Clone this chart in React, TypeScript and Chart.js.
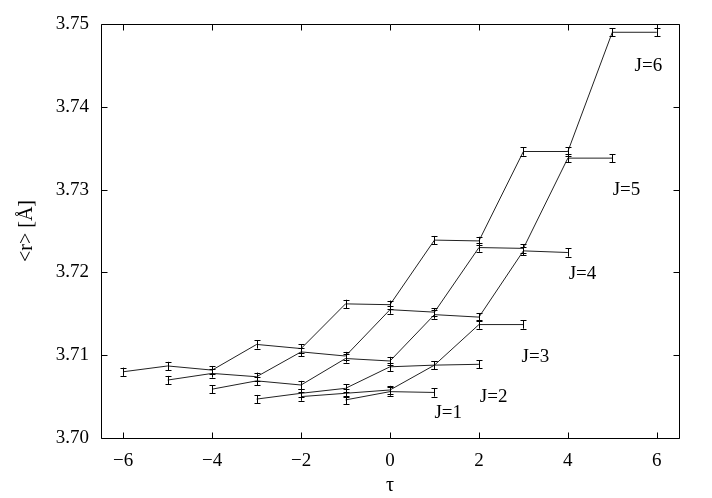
import React, { useEffect, useRef } from "react";
import { Chart, registerables } from "chart.js";

Chart.register(...registerables);

// tau values and <r> for each J
const tauJ1 = [-1, 0, 1];
const rJ1 = [3.7046, 3.7056, 3.7055];
const errJ1 = [0.0005, 0.0005, 0.0005];

const tauJ2 = [-2, -1, 0, 1, 2];
const rJ2 = [3.7050, 3.7054, 3.7058, 3.7088, 3.7089];
const errJ2 = [0.0005, 0.0005, 0.0005, 0.0005, 0.0005];

const tauJ3 = [-3, -2, -1, 0, 1, 2, 3];
const rJ3 = [3.7047, 3.7054, 3.7060, 3.7086, 3.7088, 3.7137, 3.7137];
const errJ3 = [0.0005, 0.0005, 0.0005, 0.0005, 0.0005, 0.0005, 0.0005];

const tauJ4 = [-4, -3, -2, -1, 0, 1, 2, 3, 4];
const rJ4 = [3.7059, 3.7069, 3.7064, 3.7096, 3.7093, 3.7149, 3.7146, 3.7226, 3.7224];
const errJ4 = [0.0005, 0.0005, 0.0005, 0.0005, 0.0005, 0.0005, 0.0005, 0.0005, 0.0005];

const tauJ5 = [-5, -4, -3, -2, -1, 0, 1, 2, 3, 4, 5];
const rJ5 = [3.7070, 3.7078, 3.7074, 3.7104, 3.7099, 3.7155, 3.7152, 3.7230, 3.7229, 3.7338, 3.7338];
const errJ5 = [0.0005, 0.0005, 0.0005, 0.0005, 0.0005, 0.0005, 0.0005, 0.0005, 0.0005, 0.0005, 0.0005];

const tauJ6 = [-6, -5, -4, -3, -2, -1, 0, 1, 2, 3, 4, 5, 6];
const rJ6 = [3.7080, 3.7087, 3.7082, 3.7113, 3.7108, 3.7162, 3.7161, 3.7239, 3.7238, 3.7346, 3.7346, 3.7490, 3.7490];
const errJ6 = [0.0005, 0.0005, 0.0005, 0.0005, 0.0005, 0.0005, 0.0005, 0.0005, 0.0005, 0.0005, 0.0005, 0.0005, 0.0005];

const seriesNames = ["J=1", "J=2", "J=3", "J=4", "J=5", "J=6"];
const seriesTau = [tauJ1, tauJ2, tauJ3, tauJ4, tauJ5, tauJ6];
const seriesR = [rJ1, rJ2, rJ3, rJ4, rJ5, rJ6];
const seriesErr = [errJ1, errJ2, errJ3, errJ4, errJ5, errJ6];

// label anchor positions (data coordinates)
const labelTau = [1.31, 2.33, 3.27, 4.33, 5.32, 5.81];
const labelR = [3.7030, 3.70495, 3.70978, 3.71981, 3.72995, 3.74493];

const xTicks = [-6, -4, -2, 0, 2, 4, 6];
const yTicks = [3.70, 3.71, 3.72, 3.73, 3.74, 3.75];

const FONT = '"Liberation Serif", "Times New Roman", serif';

const framePlugin = {
  id: "frameAndExtras",
  afterDatasetsDraw(chart: any) {
    const ctx = chart.ctx;
    const xs = chart.scales.x;
    const ys = chart.scales.y;
    ctx.save();
    // error bars
    ctx.strokeStyle = "#000";
    ctx.lineWidth = 1;
    chart.data.datasets.forEach((ds: any) => {
      const errs: number[] = ds.errors;
      ds.data.forEach((p: any, i: number) => {
        const px = Math.round(xs.getPixelForValue(p.x)) + 0.5;
        const y1 = ys.getPixelForValue(p.y - errs[i]);
        const y2 = ys.getPixelForValue(p.y + errs[i]);
        ctx.beginPath();
        ctx.moveTo(px, y1);
        ctx.lineTo(px, y2);
        ctx.moveTo(px - 3, Math.round(y1) + 0.5);
        ctx.lineTo(px + 3, Math.round(y1) + 0.5);
        ctx.moveTo(px - 3, Math.round(y2) + 0.5);
        ctx.lineTo(px + 3, Math.round(y2) + 0.5);
        ctx.stroke();
      });
    });
    // labels J=n
    ctx.fillStyle = "#000";
    ctx.font = `19px ${FONT}`;
    ctx.textAlign = "center";
    ctx.textBaseline = "middle";
    seriesNames.forEach((name, i) => {
      ctx.fillText(name, xs.getPixelForValue(labelTau[i]), ys.getPixelForValue(labelR[i]));
    });
    ctx.restore();
  },
  afterDraw(chart: any) {
    const ctx = chart.ctx;
    const { left, right, top, bottom } = chart.chartArea;
    const xs = chart.scales.x;
    const ys = chart.scales.y;
    ctx.save();
    ctx.strokeStyle = "#000";
    ctx.lineWidth = 1;
    const L = Math.round(left) + 0.5;
    const R = Math.round(right) + 0.5;
    const T = Math.round(top) + 0.5;
    const B = Math.round(bottom) + 0.5;
    ctx.beginPath();
    ctx.rect(L, T, R - L, B - T);
    const tl = 6;
    xTicks.forEach((v) => {
      const px = Math.round(xs.getPixelForValue(v)) + 0.5;
      ctx.moveTo(px, B);
      ctx.lineTo(px, B - tl);
      ctx.moveTo(px, T);
      ctx.lineTo(px, T + tl);
    });
    yTicks.forEach((v) => {
      const py = Math.round(ys.getPixelForValue(v)) + 0.5;
      ctx.moveTo(L, py);
      ctx.lineTo(L + tl, py);
      ctx.moveTo(R, py);
      ctx.lineTo(R - tl, py);
    });
    ctx.stroke();
    ctx.restore();
  },
};

export default function App() {
  const canvasRef = useRef<HTMLCanvasElement | null>(null);

  useEffect(() => {
    const canvas = canvasRef.current;
    if (!canvas) return;
    const datasets = seriesNames.map((name, k) => ({
      label: name,
      data: seriesTau[k].map((t, i) => ({ x: t, y: seriesR[k][i] })),
      errors: seriesErr[k],
      showLine: true,
      borderColor: "#222",
      borderWidth: 1,
      pointRadius: 0,
      pointHoverRadius: 0,
      fill: false,
      tension: 0,
    }));
    const chart = new Chart(canvas, {
      type: "scatter",
      data: { datasets: datasets as any },
      options: {
        responsive: false,
        animation: false,
        devicePixelRatio: 1,
        layout: { padding: { top: 24, right: 33, left: 0, bottom: 0 } },
        plugins: {
          legend: { display: false },
          tooltip: { enabled: false },
        },
        scales: {
          x: {
            type: "linear",
            min: -6.5,
            max: 6.5,
            afterBuildTicks: (s: any) => {
              s.ticks = xTicks.map((v) => ({ value: v }));
            },
            afterFit: (s: any) => {
              s.height = 60;
            },
            grid: { display: false, drawTicks: false },
            border: { display: false },
            ticks: {
              color: "#000",
              padding: 12,
              maxRotation: 0,
              font: { family: FONT, size: 19 },
              callback: (v: any) => (Number(v) < 0 ? "\u2212" + Math.abs(Number(v)) : String(v)),
            },
            title: {
              display: true,
              text: "\u03c4",
              color: "#000",
              font: { family: FONT, size: 20 },
              padding: { top: 0, bottom: 0 },
            },
          },
          y: {
            type: "linear",
            min: 3.7,
            max: 3.75,
            afterBuildTicks: (s: any) => {
              s.ticks = yTicks.map((v) => ({ value: v }));
            },
            afterFit: (s: any) => {
              s.width = 101;
            },
            grid: { display: false, drawTicks: false },
            border: { display: false },
            ticks: {
              color: "#000",
              padding: 12,
              font: { family: FONT, size: 19 },
              callback: (v: any) => Number(v).toFixed(2),
            },
            title: {
              display: true,
              text: "<r> [\u00c5]",
              color: "#000",
              font: { family: FONT, size: 20 },
              padding: { top: 15, bottom: 0 },
            },
          },
        },
      },
      plugins: [framePlugin],
    });
    return () => chart.destroy();
  }, []);

  return (
    <div style={{ position: "fixed", left: 0, top: 0, width: 712, height: 498, background: "#fff" }}>
      <canvas ref={canvasRef} width={712} height={498} style={{ display: "block" }} />
    </div>
  );
}
